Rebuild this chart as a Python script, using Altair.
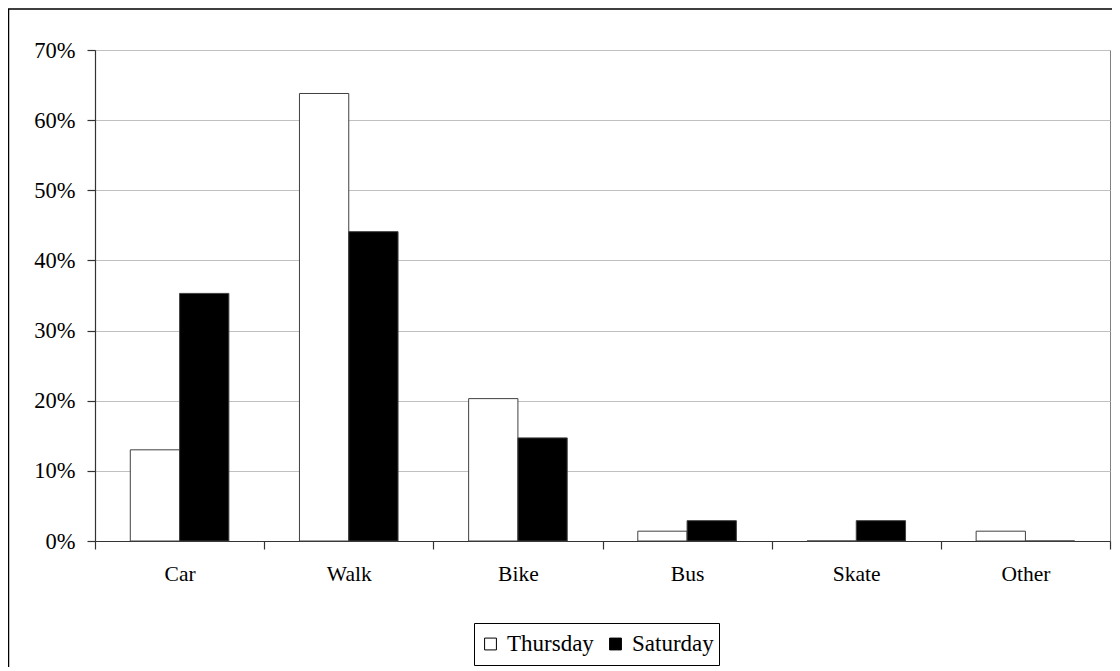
import altair as alt
import pandas as pd

modes = ["Car", "Walk", "Bike", "Bus", "Skate", "Other"]
days = ["Thursday", "Saturday"]
thursday = [13.0, 63.8, 20.3, 1.4, 0.0, 1.4]
saturday = [35.3, 44.1, 14.7, 2.9, 2.9, 0.0]
y_ticks = [0, 10, 20, 30, 40, 50, 60, 70]

rows = []
for m, t, s in zip(modes, thursday, saturday):
    rows.append({"mode": m, "day": "Thursday", "pct": t})
    rows.append({"mode": m, "day": "Saturday", "pct": s})
df = pd.DataFrame(rows)

W, H = 1015, 491
FONT = "Liberation Serif"

bars = alt.Chart(df).mark_bar(stroke="#404040", strokeWidth=1).encode(
    x=alt.X("mode:N", sort=modes,
            scale=alt.Scale(paddingInner=0, paddingOuter=0),
            axis=alt.Axis(title=None, labelAngle=0, tickBand="extent", grid=False,
                          labelPadding=14, tickSize=8, labelFontSize=21.5)),
    xOffset=alt.XOffset("day:N", sort=days,
                        scale=alt.Scale(domain=days, paddingInner=0, paddingOuter=0.716)),
    y=alt.Y("pct:Q", scale=alt.Scale(domain=[0, 70], nice=False),
            axis=alt.Axis(values=y_ticks, labelExpr="datum.value + '%'", title=None,
                          grid=True, tickSize=8, labelPadding=12, labelFontSize=22.5)),
    fill=alt.Fill("day:N", scale=alt.Scale(domain=days, range=["white", "black"]),
                  legend=alt.Legend(title=None, orient="none", legendX=379, legendY=573,
                                    direction="horizontal", symbolType="square",
                                    symbolSize=140, symbolStrokeColor="black",
                                    symbolStrokeWidth=1, labelFont=FONT, labelFontSize=23,
                                    labelColor="black", strokeColor="black", fillColor="white",
                                    padding=5, columnPadding=10, labelOffset=5,
                                    clipHeight=32)),
)

frame = alt.Chart(pd.DataFrame({"k": [0]})).mark_rect(
    fill="transparent", stroke="black", strokeWidth=1.5, clip=False
).encode(
    x=alt.value(-86.5), x2=alt.value(W + 100), y=alt.value(-41), y2=alt.value(H + 300)
)

chart = alt.layer(frame, bars).properties(
    width=W, height=H,
    autosize=alt.AutoSizeParams(type="none"),
    padding={"left": 87, "top": 42, "right": 2, "bottom": 126},
).configure_view(
    stroke="#808080", strokeWidth=1
).configure_axis(
    labelFont=FONT, labelColor="black",
    domainColor="#333333", domainWidth=1.2, tickColor="#333333", tickWidth=1.2,
    gridColor="#c0c0c0", gridWidth=1,
)

chart.save("out.html", embed_options={"renderer": "svg", "actions": False})
